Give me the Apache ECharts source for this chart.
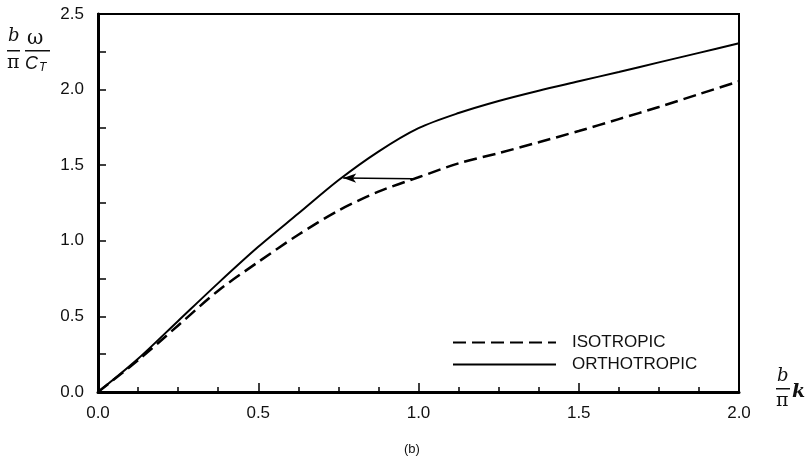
<!DOCTYPE html>
<html>
<head>
<meta charset="utf-8">
<script src="https://cdn.jsdelivr.net/npm/echarts@6/dist/echarts.min.js"></script>
<style>
  html, body { margin: 0; padding: 0; background: #fff; }
  #main { width: 807px; height: 468px; }
</style>
</head>
<body>
<div id="main"></div>
<script>
var dom = document.getElementById("main");
var myChart = echarts.init(dom);

// b/pi * k values
var kValues = [0, 0.125, 0.25, 0.375, 0.5, 0.625, 0.75, 0.875, 1.0, 1.125, 1.25, 1.375, 1.5, 1.625, 1.75, 1.875, 2.0];
// b/pi * omega/C_T
var isotropic = [0, 0.21, 0.44, 0.67, 0.86, 1.04, 1.20, 1.325, 1.42, 1.512, 1.58, 1.652, 1.726, 1.805, 1.885, 1.97, 2.055];
var orthotropic = [0, 0.22, 0.47, 0.72, 0.96, 1.18, 1.40, 1.59, 1.745, 1.845, 1.925, 1.993, 2.055, 2.117, 2.18, 2.243, 2.306];
// arrow between the two curves
var arrowFrom = [0.984, 1.41];
var arrowTo = [0.765, 1.415];

var font = "'Liberation Sans', Arial, Helvetica, sans-serif";
var serif = "'DejaVu Serif', 'Liberation Serif', serif";

function pairs(xs, ys) {
    return xs.map(function (x, i) { return [x, ys[i]]; });
}

var option = {
    animation: false,
    backgroundColor: '#fff',
    grid: {
        left: 98, right: 68, top: 14, bottom: 76,
        show: true,
        borderColor: '#000',
        borderWidth: 2
    },
    legend: {
        orient: 'vertical',
        left: 447,
        top: 329,
        itemWidth: 103,
        itemHeight: 14,
        itemGap: 5,
        itemStyle: { opacity: 0 },
        textStyle: {
            fontFamily: font,
            fontSize: 17,
            color: '#111',
            padding: [0, 0, 0, 11]
        },
        data: ['ISOTROPIC', 'ORTHOTROPIC']
    },
    xAxis: {
        type: 'value',
        min: 0,
        max: 2,
        interval: 0.5,
        axisLine: { lineStyle: { color: '#000', width: 3 } },
        axisTick: { inside: true, length: 9, lineStyle: { color: '#000', width: 1.5 } },
        minorTick: { show: true, splitNumber: 4, length: 5, lineStyle: { color: '#000', width: 1.5 } },
        splitLine: { show: false },
        axisLabel: {
            margin: 13,
            fontFamily: font,
            fontSize: 17,
            color: '#111',
            formatter: function (v) { return v.toFixed(1); }
        }
    },
    yAxis: {
        type: 'value',
        min: 0,
        max: 2.5,
        interval: 0.5,
        axisLine: { lineStyle: { color: '#000', width: 3 } },
        axisTick: { inside: true, length: 8, lineStyle: { color: '#000', width: 1.5 } },
        minorTick: { show: true, splitNumber: 2, length: 8, lineStyle: { color: '#000', width: 1.5 } },
        splitLine: { show: false },
        axisLabel: {
            margin: 14,
            fontFamily: font,
            fontSize: 17,
            color: '#111',
            formatter: function (v) { return v.toFixed(1); }
        }
    },
    series: [
        {
            name: 'ISOTROPIC',
            type: 'line',
            smooth: 0.3,
            symbol: 'none',
            lineStyle: { color: '#000', width: 2.5, type: [13, 6] },
            itemStyle: { color: '#000' },
            data: pairs(kValues, isotropic)
        },
        {
            name: 'ORTHOTROPIC',
            type: 'line',
            smooth: 0.3,
            symbol: 'none',
            lineStyle: { color: '#000', width: 2 },
            itemStyle: { color: '#000' },
            data: pairs(kValues, orthotropic)
        },
        {
            name: 'arrow',
            type: 'line',
            data: [],
            markLine: {
                silent: true,
                symbol: ['none', 'arrow'],
                symbolSize: [7, 13],
                label: { show: false },
                lineStyle: { color: '#000', width: 1.5, type: 'solid' },
                data: [[{ coord: arrowFrom }, { coord: arrowTo }]]
            }
        }
    ],
    graphic: [
        // y axis name: b/pi * omega/C_T
        { type: 'text', left: 8, top: 27, style: { text: 'b', font: 'italic 18px ' + serif, fill: '#111' } },
        { type: 'rect', shape: { x: 7, y: 50, width: 13, height: 1.5 }, style: { fill: '#111' } },
        { type: 'text', left: 7, top: 54, style: { text: 'π', font: '19px ' + serif, fill: '#111' } },
        { type: 'text', left: 27, top: 29, style: { text: 'ω', font: '20px ' + serif, fill: '#111' } },
        { type: 'rect', shape: { x: 25, y: 50, width: 25, height: 1.5 }, style: { fill: '#111' } },
        { type: 'text', left: 25, top: 55, style: { text: 'C', font: 'italic 18px ' + font, fill: '#111' } },
        { type: 'text', left: 39, top: 62, style: { text: 'T', font: 'italic 12px ' + font, fill: '#111' } },
        // x axis name: b/pi * k
        { type: 'text', left: 777, top: 367, style: { text: 'b', font: 'italic 18px ' + serif, fill: '#111' } },
        { type: 'rect', shape: { x: 776, y: 388, width: 14, height: 1.5 }, style: { fill: '#111' } },
        { type: 'text', left: 776, top: 392, style: { text: 'π', font: '19px ' + serif, fill: '#111' } },
        { type: 'text', left: 792, top: 383, style: { text: 'k', font: 'italic bold 19px ' + serif, fill: '#111' } },
        // caption
        { type: 'text', left: 404, top: 443, style: { text: '(b)', font: '13px ' + font, fill: '#111' } }
    ]
};

myChart.setOption(option);
</script>
</body>
</html>
